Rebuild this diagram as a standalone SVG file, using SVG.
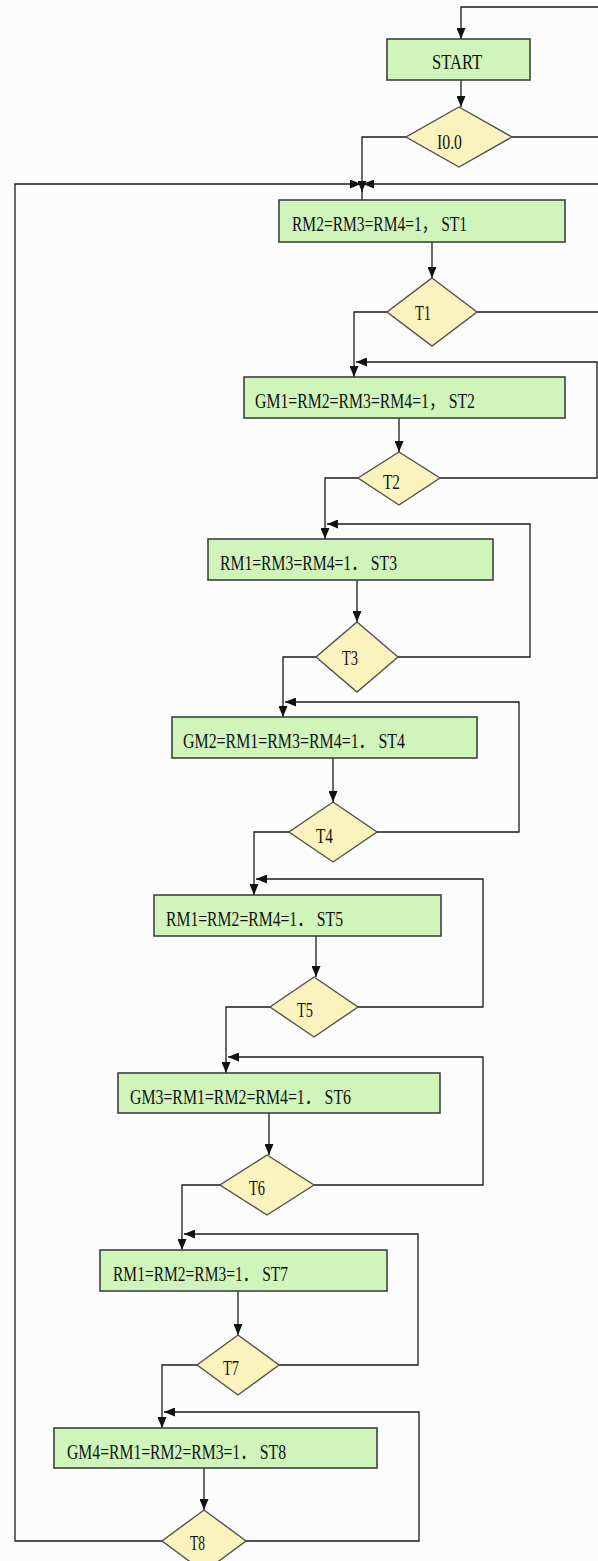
<svg xmlns="http://www.w3.org/2000/svg" width="598" height="1561" viewBox="0 0 598 1561">
<style>
.box{fill:#cff5bb;stroke:#404040;stroke-width:1.6}
.dia{fill:#fbf3bd;stroke:#505050;stroke-width:1.4}
.ln{fill:none;stroke:#1a1a1a;stroke-width:1.3}
.arr{fill:none;stroke:#1a1a1a;stroke-width:1.3;marker-end:url(#ah)}
text{font-family:"Liberation Serif","Noto Sans CJK SC","Times New Roman",serif;font-size:20px;fill:#111}
</style>
<defs>
<marker id="ah" markerUnits="userSpaceOnUse" markerWidth="11" markerHeight="9" refX="11" refY="4.5" orient="auto"><path d="M0,0 L11,4.5 L0,9 z" fill="#111"/></marker>
</defs>
<rect x="0" y="0" width="598" height="1561" fill="#fcfcfc"/>
<g id="connectors">
<path class="arr" d="M598,7 H461 V39"/>
<path class="arr" d="M461,80 V107"/>
<path class="ln" d="M512,137 H598"/>
<path class="arr" d="M406,137 H362 V192"/>
<path class="ln" d="M362,191 V200"/>
<path class="arr" d="M162,1541 H15 V184 H361"/>
<path class="arr" d="M598,184 H363"/>
<path class="arr" d="M432,242 V278"/>
<path class="ln" d="M477,312 H598"/>
<path class="arr" d="M387,312 H354 V377"/>
<path class="arr" d="M440,478 H597 V362 H356"/>
<path class="arr" d="M399,418 V452"/>
<path class="arr" d="M358,478 H325 V539"/>
<path class="arr" d="M398,657 H530 V524 H327"/>
<path class="arr" d="M357,580 V622"/>
<path class="arr" d="M316,657 H283 V717"/>
<path class="arr" d="M377,832 H519 V702 H285"/>
<path class="arr" d="M333,758 V802"/>
<path class="arr" d="M289,832 H254 V895"/>
<path class="arr" d="M358,1007 H483 V879 H256"/>
<path class="arr" d="M316,936 V977"/>
<path class="arr" d="M270,1007 H226 V1073"/>
<path class="arr" d="M314,1185 H483 V1057 H228"/>
<path class="arr" d="M269,1113 V1155"/>
<path class="arr" d="M220,1185 H182 V1250"/>
<path class="arr" d="M279,1365 H418 V1234 H184"/>
<path class="arr" d="M238,1291 V1335"/>
<path class="arr" d="M197,1365 H162 V1428"/>
<path class="arr" d="M246,1541 H419 V1412 H164"/>
<path class="arr" d="M204,1468 V1510"/>
</g>
<g id="start"><rect class="box" x="387" y="39" width="143" height="41"/><text x="432" y="69" textLength="50" lengthAdjust="spacingAndGlyphs">START</text></g>
<g id="i00"><polygon class="dia" points="459,107 512,137 459,167 406,137"/><text x="437" y="149" textLength="25" lengthAdjust="spacingAndGlyphs">I0.0</text></g>
<g id="st1"><rect class="box" x="279" y="200" width="286" height="42"/><text x="292" y="231" textLength="175" lengthAdjust="spacingAndGlyphs">RM2=RM3=RM4=1， ST1</text></g>
<g id="t1"><polygon class="dia" points="432,278 477,312 432,346 387,312"/><text x="415" y="320" textLength="16" lengthAdjust="spacingAndGlyphs">T1</text></g>
<g id="st2"><rect class="box" x="244" y="377" width="321" height="41"/><text x="255" y="408" textLength="220" lengthAdjust="spacingAndGlyphs">GM1=RM2=RM3=RM4=1， ST2</text></g>
<g id="t2"><polygon class="dia" points="399,452 440,478 399,505 358,478"/><text x="383" y="489" textLength="17" lengthAdjust="spacingAndGlyphs">T2</text></g>
<g id="st3"><rect class="box" x="208" y="539" width="285" height="41"/><text x="220" y="570" textLength="177" lengthAdjust="spacingAndGlyphs">RM1=RM3=RM4=1． ST3</text></g>
<g id="t3"><polygon class="dia" points="357,622 398,657 357,692 316,657"/><text x="342" y="665" textLength="16" lengthAdjust="spacingAndGlyphs">T3</text></g>
<g id="st4"><rect class="box" x="172" y="717" width="305" height="41"/><text x="183" y="748" textLength="222" lengthAdjust="spacingAndGlyphs">GM2=RM1=RM3=RM4=1． ST4</text></g>
<g id="t4"><polygon class="dia" points="333,802 377,832 333,862 289,832"/><text x="316" y="843" textLength="17" lengthAdjust="spacingAndGlyphs">T4</text></g>
<g id="st5"><rect class="box" x="154" y="895" width="287" height="41"/><text x="166" y="926" textLength="177" lengthAdjust="spacingAndGlyphs">RM1=RM2=RM4=1． ST5</text></g>
<g id="t5"><polygon class="dia" points="314,977 358,1007 314,1037 270,1007"/><text x="297" y="1017" textLength="16" lengthAdjust="spacingAndGlyphs">T5</text></g>
<g id="st6"><rect class="box" x="118" y="1073" width="322" height="40"/><text x="130" y="1104" textLength="221" lengthAdjust="spacingAndGlyphs">GM3=RM1=RM2=RM4=1． ST6</text></g>
<g id="t6"><polygon class="dia" points="267,1155 314,1185 267,1215 220,1185"/><text x="249" y="1195" textLength="16" lengthAdjust="spacingAndGlyphs">T6</text></g>
<g id="st7"><rect class="box" x="100" y="1250" width="287" height="41"/><text x="113" y="1281" textLength="175" lengthAdjust="spacingAndGlyphs">RM1=RM2=RM3=1． ST7</text></g>
<g id="t7"><polygon class="dia" points="238,1335 279,1365 238,1395 197,1365"/><text x="223" y="1375" textLength="16" lengthAdjust="spacingAndGlyphs">T7</text></g>
<g id="st8"><rect class="box" x="54" y="1428" width="323" height="40"/><text x="67" y="1459" textLength="219" lengthAdjust="spacingAndGlyphs">GM4=RM1=RM2=RM3=1． ST8</text></g>
<g id="t8"><polygon class="dia" points="204,1510 246,1541 204,1572 162,1541"/><text x="190" y="1550" textLength="15" lengthAdjust="spacingAndGlyphs">T8</text></g>
</svg>
